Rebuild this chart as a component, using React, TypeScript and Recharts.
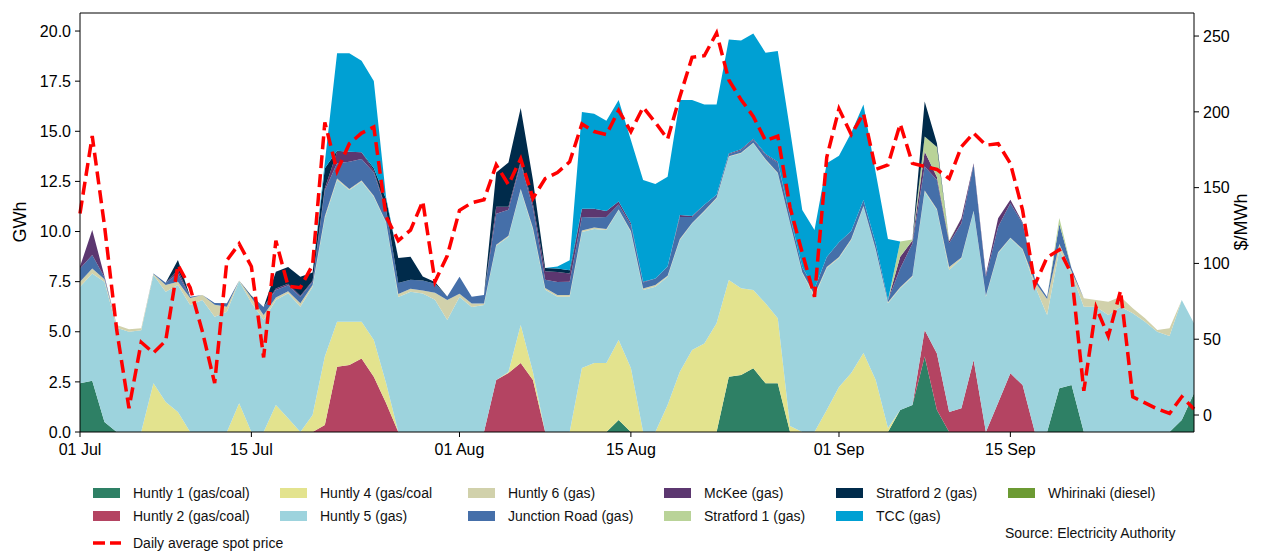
import React from "react";
import { ComposedChart, Area, Line, XAxis, YAxis, ReferenceLine } from "recharts";

// day 0 = 01 Jul, day 91 = 30 Sep
const tickDays = [0, 14, 31, 45, 62, 76];
const tickLabels = ["01 Jul", "15 Jul", "01 Aug", "15 Aug", "01 Sep", "15 Sep"];

// GWh per day, stacked bottom to top
const huntly1 = [
  2.43, 2.56, 0.5, 0, 0, 0, 0, 0, 0, 0,
  0, 0, 0, 0, 0, 0, 0, 0, 0, 0,
  0, 0, 0, 0, 0, 0, 0, 0, 0, 0,
  0, 0, 0, 0, 0, 0, 0, 0, 0, 0,
  0, 0, 0, 0, 0.6, 0, 0, 0, 0, 0,
  0, 0, 0, 2.76, 2.84, 3.18, 2.43, 2.43, 0, 0,
  0, 0, 0, 0, 0, 0, 0, 1.1, 1.35, 3.76,
  1.1, 0, 0, 0, 0, 0, 0, 0, 0, 0,
  2.18, 2.34, 0, 0, 0, 0, 0, 0, 0, 0,
  0.6, 1.93,
];
const huntly2 = [
  0, 0, 0, 0, 0, 0, 0, 0, 0, 0,
  0, 0, 0, 0, 0, 0, 0, 0, 0, 0,
  0.35, 3.26, 3.34, 3.67, 2.76, 1.45, 0, 0, 0, 0,
  0, 0, 0, 0, 2.59, 2.94, 3.44, 2.59, 0, 0,
  0, 0, 0, 0, 0, 0, 0, 0, 0, 0,
  0, 0, 0, 0, 0, 0, 0, 0, 0, 0,
  0, 0, 0, 0, 0, 0, 0, 0, 0, 1.33,
  2.82, 1.0, 1.18, 3.59, 0, 1.46, 2.93, 2.34, 0, 0,
  0, 0, 0, 0, 0, 0, 0, 0, 0, 0,
  0, 0,
];
const huntly4 = [
  0, 0, 0, 0, 0, 0, 2.43, 1.5, 1.0, 0,
  0, 0, 0, 1.43, 0, 0, 1.35, 0.68, 0, 0.85,
  3.41, 2.24, 2.16, 1.83, 1.83, 1.0, 0, 0, 0, 0,
  0, 0, 0, 0, 0, 0.05, 1.9, 0.4, 0, 0,
  0, 3.19, 3.44, 3.44, 3.99, 3.19, 0, 0, 1.35, 3.0,
  4.09, 4.42, 5.42, 4.82, 4.33, 3.9, 3.99, 3.24, 0.3, 0,
  0, 1.1, 2.24, 2.94, 3.94, 2.6, 0.2, 0, 0, 0,
  0, 0, 0, 0, 0, 0, 0, 0, 0, 0,
  0, 0, 0, 0, 0, 0, 0, 0, 0, 0,
  0, 0,
];
const huntly5 = [
  4.82, 5.35, 7.0, 5.2, 5.0, 5.08, 5.4, 5.5, 6.33, 6.33,
  6.58, 5.75, 6.0, 6.1, 6.45, 5.59, 5.23, 6.24, 6.25, 6.4,
  6.9, 7.07, 6.57, 6.99, 7.15, 7.97, 6.73, 7.0, 6.91, 6.6,
  5.59, 6.73, 6.24, 6.33, 6.7, 6.75, 6.73, 7.08, 7.1, 6.75,
  6.75, 6.78, 6.68, 6.63, 6.48, 6.78, 7.08, 7.25, 6.4, 6.58,
  6.31, 6.58, 6.23, 6.15, 6.73, 7.32, 7.15, 7.23, 10.1, 7.92,
  6.75, 7.08, 6.44, 6.64, 7.3, 6.48, 6.22, 6.07, 6.4, 6.9,
  7.15, 7.08, 7.48, 7.41, 6.75, 7.45, 6.73, 6.74, 7.3, 5.84,
  6.9, 5.57, 6.25, 6.25, 5.84, 6.25, 5.92, 5.5, 5.0, 4.79,
  5.98, 3.49,
];
const huntly6 = [
  0.25, 0.25, 0.12, 0.14, 0.12, 0.09, 0.05, 0.33, 0.17, 0.35,
  0.25, 0.6, 0.25, 0.03, 0.25, 0.25, 0.13, 0.1, 0.17, 0.08,
  0.1, 0.08, 0.05, 0.05, 0.05, 0.05, 0.15, 0.15, 0.15, 0.34,
  1.0, 0.17, 0.17, 0.08, 0.05, 0.05, 0.05, 0.1, 0.08, 0.08,
  0.08, 0.08, 0.08, 0.05, 0.03, 0.05, 0.08, 0.08, 0.05, 0.05,
  0.03, 0.03, 0.03, 0.03, 0.03, 0.03, 0.03, 0.03, 0.03, 0.05,
  0.1, 0.05, 0.05, 0.05, 0.03, 0.03, 0.05, 0.05, 0.05, 0.05,
  0.05, 0.15, 0.05, 0.03, 0.05, 0.05, 0.03, 0.05, 0.2, 0.8,
  0.3, 0.1, 0.42, 0.33, 0.66, 0.5, 0.25, 0.17, 0.09, 0.38,
  0, 0,
];
const junctionRoad = [
  0.66, 0.67, 0.1, 0, 0, 0, 0.03, 0.12, 0.41, 0.07,
  0, 0.08, 0.17, 0, 0.05, 0.4, 0.37, 0.3, 0.33, 0.17,
  1.3, 0.75, 1.36, 1.08, 1.16, 0.6, 0.55, 0.45, 0.5, 0.46,
  0.17, 0.85, 0.34, 0.42, 1.55, 1.3, 1.28, 1.0, 0.42, 0.65,
  0.67, 0.67, 0.5, 0.6, 0.25, 0.3, 0.3, 0.33, 0.45, 1.1,
  0.3, 0.3, 0.15, 0.1, 0.12, 0.15, 0.22, 0.5, 0.3, 0.25,
  0.3, 0.5, 0.73, 0.4, 0.3, 0.3, 0.1, 0.94, 1.6, 1.2,
  1.45, 1.18, 1.7, 2.3, 0.95, 1.28, 1.72, 1.28, 0.15, 0.1,
  1.0, 0.15, 0, 0, 0, 0, 0, 0, 0, 0,
  0, 0,
];
const mckee = [
  0.09, 1.24, 0.05, 0, 0, 0, 0, 0, 0.17, 0,
  0, 0, 0, 0, 0, 0, 0.08, 0.08, 0.05, 0.05,
  0.1, 0.58, 0.5, 0.33, 0.1, 0.05, 0, 0, 0, 0,
  0, 0, 0, 0, 0.35, 0.15, 0.1, 0.2, 0.42, 0.5,
  0.4, 0.42, 0.44, 0.3, 0.15, 0.1, 0.03, 0, 0, 0.1,
  0.05, 0, 0, 0.03, 0.05, 0.05, 0.05, 0.05, 0.05, 0,
  0, 0, 0, 0, 0, 0, 0, 0.58, 0.15, 0.75,
  0.15, 0.1, 0.25, 0.08, 0.1, 0.42, 0.17, 0.05, 0, 0,
  0, 0, 0, 0, 0, 0, 0, 0, 0, 0,
  0, 0,
];
const stratford1 = [
  0, 0, 0, 0, 0, 0, 0, 0, 0, 0,
  0, 0, 0, 0, 0, 0, 0, 0, 0, 0,
  0, 0, 0, 0, 0, 0, 0, 0, 0, 0,
  0, 0, 0, 0, 0, 0, 0, 0, 0, 0,
  0, 0, 0, 0, 0, 0, 0, 0, 0, 0,
  0, 0, 0, 0, 0, 0, 0, 0, 0, 0,
  0, 0, 0, 0, 0, 0, 0, 0.76, 0.05, 0.75,
  1.5, 0.05, 0, 0, 0, 0, 0, 0, 0, 0,
  0.3, 0, 0, 0, 0, 0, 0, 0, 0, 0,
  0, 0,
];
const stratford2 = [
  0, 0, 0, 0, 0, 0, 0, 0, 0.5, 0,
  0, 0, 0, 0, 0.05, 0, 0.83, 0.83, 0.95, 0.4,
  1.0, 0.05, 0, 0, 0.1, 0.5, 1.25, 1.14, 0.2, 0.08,
  0, 0, 0, 0, 1.7, 2.2, 2.66, 1.2, 0.16, 0.17,
  0.17, 0, 0, 0, 0, 0, 0, 0, 0, 0,
  0, 0, 0, 0, 0, 0, 0, 0, 0, 0,
  0, 0, 0, 0, 0, 0, 0, 0, 0, 1.75,
  0.18, 0, 0, 0, 0, 0, 0, 0, 0, 0,
  0, 0, 0, 0, 0, 0, 0, 0, 0, 0,
  0, 0,
];
const tcc = [
  0, 0, 0, 0, 0, 0, 0, 0, 0, 0,
  0, 0, 0, 0, 0, 0, 0, 0, 0, 0,
  0.3, 4.86, 4.91, 4.57, 4.36, 0.1, 0, 0, 0, 0,
  0, 0, 0, 0, 0, 0, 0, 0, 0, 0.1,
  0.5, 4.82, 4.74, 4.5, 5.06, 4.14, 5.08, 4.71, 4.48, 5.73,
  5.78, 5.0, 4.5, 5.69, 5.43, 5.25, 5.05, 5.52, 4.3, 2.85,
  2.92, 4.67, 4.32, 4.9, 4.76, 3.52, 3.06, 0, 0, 0,
  0, 0, 0, 0, 0, 0, 0, 0, 0, 0,
  0, 0, 0, 0, 0, 0, 0, 0, 0, 0,
  0, 0,
];
const whirinaki = [
  0, 0, 0, 0, 0, 0, 0, 0, 0, 0,
  0, 0, 0, 0, 0, 0, 0, 0, 0, 0,
  0, 0, 0, 0, 0, 0, 0, 0, 0, 0,
  0, 0, 0, 0, 0, 0, 0, 0, 0, 0,
  0, 0, 0, 0, 0, 0, 0, 0, 0, 0,
  0, 0, 0, 0, 0, 0, 0, 0, 0, 0,
  0, 0, 0, 0, 0, 0, 0, 0, 0, 0,
  0, 0, 0, 0, 0, 0, 0, 0, 0, 0,
  0, 0, 0, 0, 0, 0, 0, 0, 0, 0,
  0, 0,
];

// $/MWh
const spotPrice = [
  133, 184, 125, 56, 4.5, 48, 41, 49, 99, 84,
  55, 21, 102, 113, 98, 38, 115, 85, 84, 99,
  193, 161, 179, 186, 190, 131, 115, 122, 141, 88,
  105, 135, 140, 142, 165, 152, 169, 143, 156, 160,
  167, 192, 187, 185, 201, 187, 203, 193, 182, 210,
  236, 237, 252, 221, 208, 197, 181, 184, 137, 107,
  78, 170, 202, 185, 199, 162, 165, 192, 166, 164,
  162, 156, 177, 186, 178, 179, 166, 135, 86, 104,
  109, 93, 16, 71, 52, 82, 12, 8, 4, 1,
  12, 4,
];

const series = [
  { key: "h1", name: "Huntly 1 (gas/coal)", color: "#2e8065", values: huntly1 },
  { key: "h2", name: "Huntly 2 (gas/coal)", color: "#b44462", values: huntly2 },
  { key: "h4", name: "Huntly 4 (gas/coal", color: "#e3e38e", values: huntly4 },
  { key: "h5", name: "Huntly 5 (gas)", color: "#9dd3dd", values: huntly5 },
  { key: "h6", name: "Huntly 6 (gas)", color: "#d1d1ab", values: huntly6 },
  { key: "jr", name: "Junction Road (gas)", color: "#456fa9", values: junctionRoad },
  { key: "mk", name: "McKee (gas)", color: "#5c3770", values: mckee },
  { key: "s1", name: "Stratford 1 (gas)", color: "#b9d398", values: stratford1 },
  { key: "s2", name: "Stratford 2 (gas)", color: "#002b4b", values: stratford2 },
  { key: "tcc", name: "TCC (gas)", color: "#00a0d3", values: tcc },
  { key: "wh", name: "Whirinaki (diesel)", color: "#6c9a33", values: whirinaki },
];

const data = spotPrice.map((p, i) => {
  const row: Record<string, number> = { day: i, price: p };
  series.forEach((s) => (row[s.key] = s.values[i]));
  return row;
});

const font = "'Liberation Sans', Arial, sans-serif";

// legend layout like matplotlib (6 columns, filled column-wise)
const legendCols = [93, 280, 468, 664, 836, 1008];
const legendRows = [493, 516];
const legendOrder = [
  ["h1", "h2"], ["h4", "h5"], ["h6", "jr"], ["mk", "s1"], ["s2", "tcc"], ["wh"],
];

function Legend() {
  const items: React.ReactNode[] = [];
  legendOrder.forEach((col, ci) =>
    col.forEach((key, ri) => {
      const s = series.find((x) => x.key === key)!;
      const x = legendCols[ci];
      const y = legendRows[ri];
      items.push(
        <div key={key}>
          <div style={{ position: "absolute", left: x, top: y - 5, width: 27, height: 10, background: s.color }} />
          <div style={{ position: "absolute", left: x + 40, top: y - 9, fontSize: 14, lineHeight: "18px", color: "#111", whiteSpace: "nowrap" }}>
            {s.name}
          </div>
        </div>
      );
    })
  );
  return (
    <>
      {items}
      <svg style={{ position: "absolute", left: 93, top: 538 }} width={28} height={10}>
        <line x1={0} y1={5} x2={28} y2={5} stroke="#ff0000" strokeWidth={3.5} strokeDasharray="12 5" />
      </svg>
      <div style={{ position: "absolute", left: 133, top: 534, fontSize: 14, lineHeight: "18px", color: "#111" }}>
        Daily average spot price
      </div>
      <div style={{ position: "absolute", left: 1005, top: 524, fontSize: 14, lineHeight: "18px", color: "#111" }}>
        Source: Electricity Authority
      </div>
    </>
  );
}

export default function App() {
  const tick = { fill: "#000", fontSize: 16, fontFamily: font };
  return (
    <div style={{ position: "absolute", left: 0, top: 0, width: 1262, height: 551, background: "#fff", fontFamily: font }}>
      <ComposedChart width={1262} height={460} data={data} margin={{ top: 13, right: 18, bottom: 0, left: 20 }}>
        <XAxis
          dataKey="day"
          type="number"
          domain={[0, 91]}
          ticks={tickDays}
          tickFormatter={(v) => tickLabels[tickDays.indexOf(v)]}
          tick={tick}
          tickSize={5}
          tickMargin={7}
          height={28}
          stroke="#000"
          allowDecimals={false}
        />
        <YAxis
          yAxisId="left"
          domain={[0, 20.9]}
          ticks={[0, 2.5, 5, 7.5, 10, 12.5, 15, 17.5, 20]}
          tickFormatter={(v) => v.toFixed(1)}
          tick={tick}
          tickSize={5}
          tickMargin={4}
          width={60}
          stroke="#000"
          allowDataOverflow
        />
        <YAxis
          yAxisId="right"
          orientation="right"
          domain={[-11.2, 265.2]}
          ticks={[0, 50, 100, 150, 200, 250]}
          tick={tick}
          tickSize={5}
          tickMargin={4}
          width={50}
          stroke="#000"
          allowDataOverflow
        />
        {series.map((s) => (
          <Area
            key={s.key}
            yAxisId="left"
            dataKey={s.key}
            stackId="gen"
            type="linear"
            stroke="none"
            fill={s.color}
            fillOpacity={1}
            dot={false}
            activeDot={false}
            isAnimationActive={false}
          />
        ))}
        <Line
          yAxisId="right"
          dataKey="price"
          type="linear"
          stroke="#ff0000"
          strokeWidth={3.5}
          strokeDasharray="13 6"
          dot={false}
          activeDot={false}
          isAnimationActive={false}
        />
        <ReferenceLine yAxisId="left" y={20.9} stroke="#000" strokeWidth={1} ifOverflow="visible" />
      </ComposedChart>
      <div style={{ position: "absolute", left: 20, top: 222, transform: "translate(-50%, -50%) rotate(-90deg)", fontSize: 18, color: "#000", whiteSpace: "nowrap" }}>
        GWh
      </div>
      <div style={{ position: "absolute", left: 1241, top: 222, transform: "translate(-50%, -50%) rotate(-90deg)", fontSize: 18, color: "#000", whiteSpace: "nowrap" }}>
        $/MWh
      </div>
      <Legend />
    </div>
  );
}
